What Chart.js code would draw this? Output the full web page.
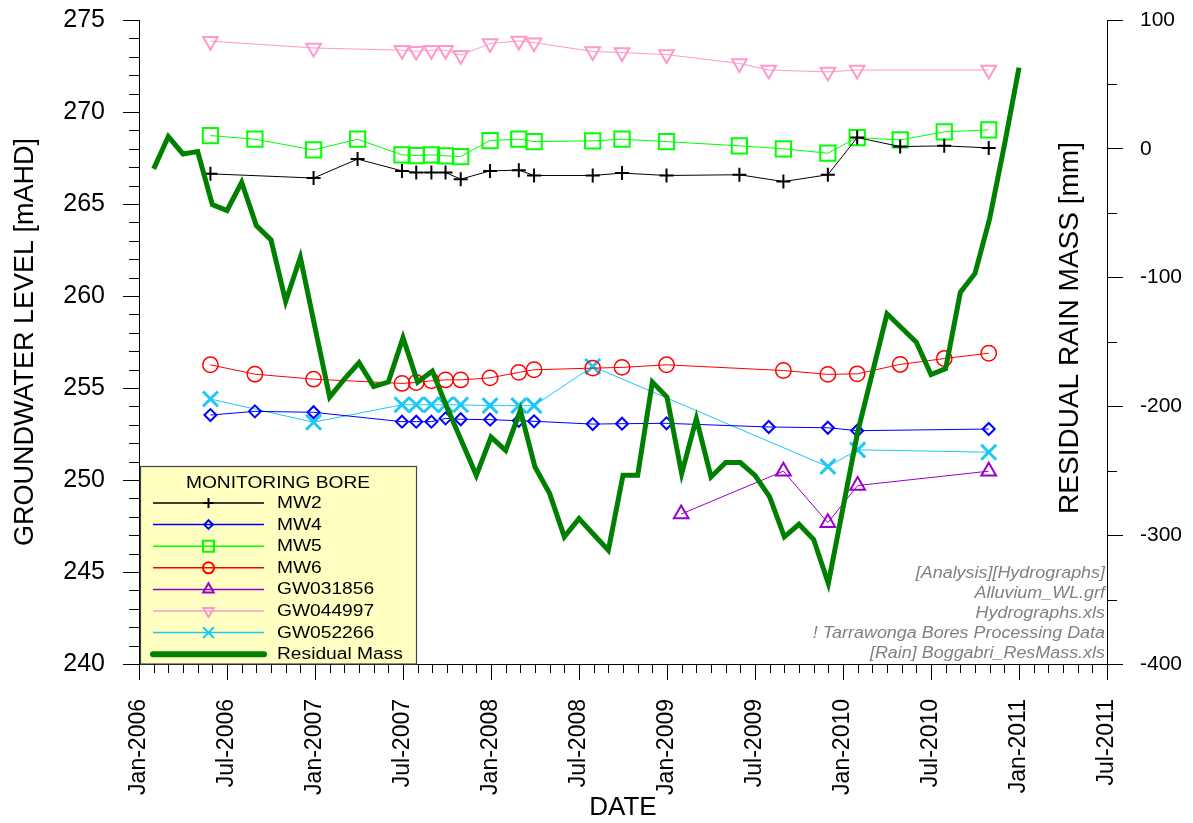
<!DOCTYPE html>
<html>
<head>
<meta charset="utf-8">
<title>Alluvium groundwater levels and residual rain mass</title>
<script src="https://cdn.jsdelivr.net/npm/chart.js@4.4.1/dist/chart.umd.min.js"></script>
<style>
  html, body { margin: 0; padding: 0; background: #ffffff; }
  canvas { display: block; }
</style>
</head>
<body>
<canvas id="hydro" width="1193" height="823"></canvas>
<script>
// ---- Monitoring dates and groundwater levels (mAHD) ----
const datesMW2 = ['2006-05-28','2006-12-29','2007-03-29','2007-06-29','2007-07-29','2007-08-30','2007-09-28','2007-10-30',
  '2007-12-30','2008-02-27','2008-03-30','2008-07-30','2008-09-29','2008-12-31','2009-05-30','2009-08-30','2009-11-30',
  '2010-01-31','2010-04-28','2010-07-29','2010-10-30'];
const levelsMW2 = [266.64,266.41,267.44,266.80,266.71,266.71,266.71,266.35,266.80,266.84,266.55,266.55,266.68,266.55,
  266.59,266.22,266.59,268.61,268.12,268.16,268.05];

const datesMW4 = ['2006-05-28','2006-08-29','2006-12-29','2007-06-29','2007-07-29','2007-08-30','2007-09-28','2007-10-30',
  '2007-12-30','2008-02-27','2008-03-30','2008-07-30','2008-09-29','2008-12-31','2009-07-30','2009-11-30','2010-01-31','2010-10-30'];
const levelsMW4 = [253.53,253.73,253.68,253.17,253.17,253.17,253.35,253.30,253.28,253.22,253.19,253.04,253.06,253.08,
  252.88,252.84,252.68,252.77];

const datesMW5 = ['2006-05-28','2006-08-29','2006-12-29','2007-03-29','2007-06-29','2007-07-29','2007-08-30','2007-09-28',
  '2007-10-30','2007-12-30','2008-02-27','2008-03-30','2008-07-30','2008-09-29','2008-12-31','2009-05-30','2009-08-30',
  '2009-11-30','2010-01-31','2010-04-28','2010-07-29','2010-10-30'];
const levelsMW5 = [268.72,268.52,267.94,268.52,267.67,267.63,267.67,267.62,267.58,268.45,268.52,268.39,268.43,268.52,
  268.39,268.16,268.00,267.76,268.61,268.48,268.92,269.03];

const datesMW6 = ['2006-05-28','2006-08-29','2006-12-29','2007-06-29','2007-07-29','2007-08-30','2007-09-28','2007-10-30',
  '2007-12-30','2008-02-27','2008-03-30','2008-07-30','2008-09-29','2008-12-31','2009-08-30','2009-11-30','2010-01-31',
  '2010-04-28','2010-07-29','2010-10-30'];
const levelsMW6 = [256.26,255.75,255.48,255.25,255.30,255.39,255.44,255.44,255.55,255.85,255.99,256.08,256.12,256.26,
  255.95,255.74,255.77,256.28,256.60,256.89];

const datesGW031856 = ['2009-01-31','2009-08-30','2009-11-30','2010-02-01','2010-10-30'];
const levelsGW031856 = [248.15,250.48,247.68,249.70,250.48];

const datesGW044997 = ['2006-05-28','2006-12-29','2007-06-29','2007-07-29','2007-08-30','2007-09-28','2007-10-30',
  '2007-12-30','2008-02-27','2008-03-30','2008-07-30','2008-09-29','2008-12-31','2009-05-30','2009-07-30','2009-11-30',
  '2010-01-31','2010-10-30'];
const levelsGW044997 = [273.85,273.48,273.36,273.30,273.36,273.36,273.09,273.72,273.86,273.77,273.29,273.23,273.12,
  272.64,272.28,272.18,272.28,272.28];

const datesGW052266 = ['2006-05-28','2006-12-29','2007-06-29','2007-07-29','2007-08-30','2007-09-28','2007-10-30',
  '2007-12-30','2008-02-27','2008-03-30','2008-07-30','2009-11-30','2010-02-01','2010-10-30'];
const levelsGW052266 = [254.40,253.14,254.09,254.09,254.09,254.09,254.09,254.04,254.04,254.04,256.17,250.73,251.64,251.51];

// ---- Boggabri residual rain mass (mm), one value per month starting Feb 2006 ----
const resMassFirstMonth = '2006-02-01';
const resMass = [-15.6,9.5,-4.0,-2.2,-43.3,-47.9,-26.0,-59.6,-70.7,-118.5,-84.2,-138.7,
  -192.8,-178.8,-166.1,-184.5,-181.1,-146.7,-181.1,-172.6,-200.8,-227.1,-253.5,-223.8,
  -234.1,-203.1,-247.1,-267.7,-301.3,-287.1,-299.5,-311.7,-253.5,-253.5,-181.1,-192.8,
  -252.2,-209.5,-254.8,-243.6,-243.6,-253.5,-270.3,-301.3,-291.5,-303.4,-337.5,-278.7,
  -219.9,-174.1,-128.1,-139.1,-150.1,-175.2,-170.7,-111.5,-96.8,-54.2,2.5,63.0];

// ---- Axis tick labels ----
const xTickLabels = ['Jan-2006','Jul-2006','Jan-2007','Jul-2007','Jan-2008','Jul-2008',
  'Jan-2009','Jul-2009','Jan-2010','Jul-2010','Jan-2011','Jul-2011'];
const levelTicks = [240,245,250,255,260,265,270,275];
const resMassTicks = [-400,-300,-200,-100,0,100];

const noteLines = ['[Analysis][Hydrographs]','Alluvium_WL.grf','Hydrographs.xls',
  '! Tarrawonga Bores Processing Data','[Rain] Boggabri_ResMass.xls'];

const FONT = "'Liberation Sans', Arial, Helvetica, sans-serif";

// Months elapsed since 1 Jan 2006 (fractional)
function monthIndex(s) {
  const [y, m, d] = s.split('-').map(Number);
  const dim = new Date(y, m, 0).getDate();
  return (y - 2006) * 12 + (m - 1) + (d - 1) / dim;
}
function toPoints(dates, values) {
  return dates.map((d, i) => ({ x: monthIndex(d), y: values[i] }));
}

const bores = [
  { label: 'MW2',      dates: datesMW2,      values: levelsMW2,      color: '#000000', style: 'cross',    r: 7,    bw: 2,   rot: 0 },
  { label: 'MW4',      dates: datesMW4,      values: levelsMW4,      color: '#0000ff', style: 'rectRot',  r: 6,    bw: 2,   rot: 0 },
  { label: 'MW5',      dates: datesMW5,      values: levelsMW5,      color: '#00ff00', style: 'rect',     r: 10.8, bw: 2,   rot: 0 },
  { label: 'MW6',      dates: datesMW6,      values: levelsMW6,      color: '#ff0000', style: 'circle',   r: 7.7,  bw: 1.5, rot: 0 },
  { label: 'GW031856', dates: datesGW031856, values: levelsGW031856, color: '#9900cc', style: 'triangle', r: 8.5,  bw: 2,   rot: 0 },
  { label: 'GW044997', dates: datesGW044997, values: levelsGW044997, color: '#ff99cc', style: 'triangle', r: 8.5,  bw: 2,   rot: 180 },
  { label: 'GW052266', dates: datesGW052266, values: levelsGW052266, color: '#1ec8f5', style: 'crossRot', r: 10.6, bw: 3,   rot: 0 }
];

const datasets = bores.map((b, i) => ({
  label: b.label,
  data: toPoints(b.dates, b.values),
  yAxisID: 'y',
  borderColor: b.color,
  backgroundColor: 'rgba(0,0,0,0)',
  borderWidth: 1,
  tension: 0,
  pointStyle: b.style,
  pointRotation: b.rot,
  pointRadius: b.r,
  pointHoverRadius: b.r,
  pointBorderWidth: b.bw,
  pointBorderColor: b.color,
  pointBackgroundColor: 'rgba(0,0,0,0)',
  order: i + 1
}));

const resStart = monthIndex(resMassFirstMonth);
datasets.push({
  label: 'Residual Mass',
  data: resMass.map((v, i) => ({ x: resStart + i, y: v })),
  yAxisID: 'y2',
  borderColor: '#008000',
  backgroundColor: 'rgba(0,0,0,0)',
  borderWidth: 5,
  tension: 0,
  pointRadius: 0,
  pointHoverRadius: 0,
  order: 0
});

// Monthly / unit / half-hundred minor ticks on the three axes
const minorTicks = {
  id: 'minorTicks',
  afterDraw(chart) {
    const { ctx, chartArea: a } = chart;
    const xs = chart.scales.x, ys = chart.scales.y, y2 = chart.scales.y2;
    ctx.save();
    ctx.strokeStyle = '#000';
    ctx.lineWidth = 1;
    ctx.beginPath();
    for (let m = xs.min; m <= xs.max; m++) {
      if (m % 6 === 0) continue;
      const px = Math.round(xs.getPixelForValue(m)) + 0.5;
      ctx.moveTo(px, a.bottom); ctx.lineTo(px, a.bottom + 9);
    }
    for (let v = ys.min; v <= ys.max; v++) {
      if (v % 5 === 0) continue;
      const py = Math.round(ys.getPixelForValue(v)) + 0.5;
      ctx.moveTo(a.left - 10, py); ctx.lineTo(a.left, py);
    }
    for (let v = y2.min; v <= y2.max; v += 50) {
      if (v % 100 === 0) continue;
      const py = Math.round(y2.getPixelForValue(v)) + 0.5;
      ctx.moveTo(a.right, py); ctx.lineTo(a.right + 10, py);
    }
    ctx.stroke();
    ctx.restore();
  }
};

function stretchedText(ctx, text, x, y, sx) {
  ctx.save();
  ctx.translate(x, y);
  ctx.scale(sx, 1);
  ctx.fillText(text, 0, 0);
  ctx.restore();
}

function drawMarker(ctx, style, r, rot, x, y) {
  if (Chart.helpers && Chart.helpers.drawPoint) {
    Chart.helpers.drawPoint(ctx, { pointStyle: style, radius: r, rotation: rot, borderWidth: 1 }, x, y);
  } else {
    ctx.beginPath(); ctx.arc(x, y, r, 0, Math.PI * 2); ctx.stroke();
  }
}

// Boxed legend, right-axis title and file notes
const annotations = {
  id: 'annotations',
  beforeDraw(chart) {
    const { ctx } = chart;
    ctx.save();
    ctx.fillStyle = '#ffffff';
    ctx.fillRect(0, 0, chart.width, chart.height);
    ctx.restore();
  },
  afterDatasetsDraw(chart) {
    const { ctx, chartArea: a } = chart;
    ctx.save();

    // right-hand axis title, inside the plot next to the axis
    ctx.fillStyle = '#000';
    ctx.font = '28px ' + FONT;
    ctx.textAlign = 'center';
    ctx.textBaseline = 'middle';
    ctx.translate(a.right - 37, 328);
    ctx.rotate(-Math.PI / 2);
    ctx.fillText('RESIDUAL RAIN MASS [mm]', 0, 0);
    ctx.setTransform(1, 0, 0, 1, 0, 0);

    // source notes
    ctx.fillStyle = '#808080';
    ctx.font = 'italic 16px ' + FONT;
    ctx.textAlign = 'right';
    ctx.textBaseline = 'middle';
    noteLines.forEach((t, i) => stretchedText(ctx, t, a.right - 2, 573.5 + i * 20.1, 1.12));

    // legend box
    const bx0 = a.left + 1.5, by0 = 466.5, bx1 = 416.5, by1 = a.bottom;
    ctx.fillStyle = '#ffffc2';
    ctx.fillRect(bx0, by0, bx1 - bx0, by1 - by0);
    ctx.strokeStyle = '#444';
    ctx.lineWidth = 1.2;
    ctx.strokeRect(bx0, by0, bx1 - bx0, by1 - by0);

    ctx.fillStyle = '#000';
    ctx.font = '16px ' + FONT;
    ctx.textAlign = 'center';
    stretchedText(ctx, 'MONITORING BORE', 278, 483.5, 1.2);

    ctx.textAlign = 'left';
    chart.data.datasets.forEach((ds, i) => {
      const yy = 503 + i * 21.6;
      ctx.strokeStyle = ds.borderColor;
      if (ds.yAxisID === 'y2') {
        ctx.lineWidth = 6;
        ctx.lineCap = 'round';
      } else {
        ctx.lineWidth = 1.5;
        ctx.lineCap = 'butt';
      }
      ctx.beginPath();
      ctx.moveTo(153, yy); ctx.lineTo(264, yy);
      ctx.stroke();
      ctx.lineCap = 'butt';
      if (ds.pointRadius > 0) {
        ctx.lineWidth = 2;
        ctx.strokeStyle = ds.pointBorderColor;
        ctx.fillStyle = 'rgba(0,0,0,0)';
        drawMarker(ctx, ds.pointStyle, ds.pointRadius * 0.72, ds.pointRotation, 208.5, yy);
      }
      ctx.fillStyle = '#000';
      stretchedText(ctx, ds.label, 277, yy + 0.5, 1.2);
    });
    ctx.restore();
  }
};

const axisGrid = { drawOnChartArea: false, drawTicks: true, tickLength: 16, color: '#000', lineWidth: 1 };
const axisBorder = { display: true, color: '#000', width: 1 };

// fixed axis box sizes so the plot frame sits where it should
function fitVertical(width) {
  return s => { s.width = width; s.paddingTop = 0; s.paddingBottom = 0; };
}

new Chart(document.getElementById('hydro'), {
  type: 'line',
  data: { datasets },
  plugins: [minorTicks, annotations],
  options: {
    responsive: false,
    animation: false,
    devicePixelRatio: 1,
    events: [],
    layout: { padding: { top: 20, left: 0, right: 0, bottom: 0 } },
    plugins: { legend: { display: false }, tooltip: { enabled: false } },
    scales: {
      x: {
        type: 'linear',
        position: 'bottom',
        min: 0,
        max: (xTickLabels.length - 1) * 6,
        afterBuildTicks: s => { s.ticks = xTickLabels.map((_, i) => ({ value: i * 6 })); },
        afterFit: s => { s.height = 159; s.paddingLeft = 0; s.paddingRight = 0; },
        ticks: {
          autoSkip: false, minRotation: 90, maxRotation: 90, padding: 19, color: '#000',
          font: { family: FONT, size: 23 },
          callback: v => xTickLabels[Math.round(v / 6)]
        },
        grid: axisGrid,
        border: axisBorder,
        title: { display: true, text: 'DATE', color: '#000', font: { family: FONT, size: 26 }, padding: { top: 0, bottom: 0 } }
      },
      y: {
        type: 'linear',
        position: 'left',
        min: levelTicks[0],
        max: levelTicks[levelTicks.length - 1],
        afterBuildTicks: s => { s.ticks = levelTicks.map(v => ({ value: v })); },
        afterFit: fitVertical(139),
        ticks: { padding: 18, color: '#000', font: { family: FONT, size: 25 }, callback: v => String(v) },
        grid: axisGrid,
        border: axisBorder,
        title: { display: true, text: 'GROUNDWATER LEVEL [mAHD]', color: '#000', font: { family: FONT, size: 27 }, padding: { top: 9, bottom: 0 } }
      },
      y2: {
        type: 'linear',
        position: 'right',
        min: resMassTicks[0],
        max: resMassTicks[resMassTicks.length - 1],
        afterBuildTicks: s => { s.ticks = resMassTicks.map(v => ({ value: v })); },
        afterFit: fitVertical(86),
        ticks: { padding: 17, color: '#000', font: { family: FONT, size: 21 }, callback: v => String(v) },
        grid: axisGrid,
        border: axisBorder
      }
    }
  }
});
</script>
</body>
</html>
